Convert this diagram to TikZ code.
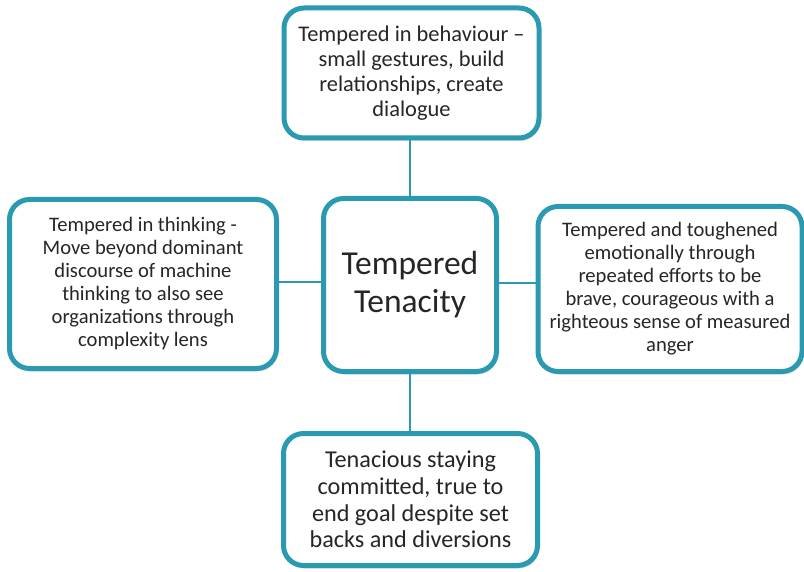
\documentclass[tikz,border=0pt]{standalone}
\usepackage{fontspec}
\setmainfont{Carlito}
\usetikzlibrary{shadows}
\definecolor{teal}{HTML}{2A9AB0}
\tikzset{
  card/.style={draw=teal, line width=5pt, fill=white, rounded corners=20pt,
    align=center, inner sep=0pt, font=\fontsize{20.6}{23}\selectfont, text=black!85,
    drop shadow={opacity=0.25, shadow xshift=1.5pt, shadow yshift=-3pt}},
  link/.style={draw=teal, line width=2.5pt}
}
\begin{document}
\begin{tikzpicture}[x=1pt,y=-1pt]
  \useasboundingbox (0,0) rectangle (804,572);
  \node[card, minimum width=255pt, minimum height=130pt,
        font=\fontsize{22.4}{25}\selectfont] (top) at (411.5,73)
    {Tempered in behaviour –\\small gestures, build\\relationships, create\\dialogue};
  \node[card, minimum width=173pt, minimum height=173pt,
        font=\fontsize{33.5}{38}\selectfont] (mid) at (410,285)
    {Tempered\\Tenacity};
  \node[card, minimum width=267pt, minimum height=169pt] (left) at (143,284)
    {Tempered in thinking -\\Move beyond dominant\\discourse of machine\\thinking to also see\\organizations through\\complexity lens};
  \node[card, minimum width=264pt, minimum height=165pt] (right) at (670,289)
    {Tempered and toughened\\emotionally through\\repeated efforts to be\\brave, courageous with a\\righteous sense of measured\\anger};
  \node[card, minimum width=254pt, minimum height=132pt,
        font=\fontsize{24.2}{26.7}\selectfont] (bot) at (410.5,499.5)
    {Tenacious staying\\committed, true to\\end goal despite set\\backs and diversions};
  % connectors between the central card and the four outer cards
  \draw[link] (top.south -| mid.north) -- (mid.north);
  \draw[link] (mid.south) -- (mid.south |- bot.north);
  \draw[link] ([yshift=2pt]left.east) -- ([yshift=2pt]left.east -| mid.west);
  \draw[link] ([yshift=2pt]mid.east) -- ([yshift=2pt]mid.east -| right.west);
\end{tikzpicture}
\end{document}
